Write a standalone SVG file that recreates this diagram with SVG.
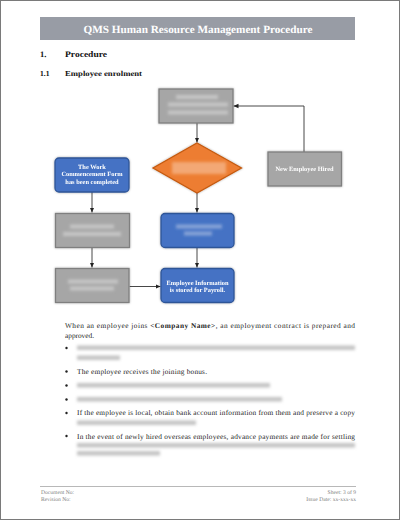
<svg xmlns="http://www.w3.org/2000/svg" width="400" height="520" viewBox="0 0 400 520" text-rendering="geometricPrecision">
<style>
.serif{font-family:"Liberation Serif","DejaVu Serif",serif}
.body{font-family:"Liberation Serif","DejaVu Serif",serif;font-size:7.3px;fill:#222222}
.bold{font-weight:bold}
.gray{fill:#a6a6a6;stroke:#7f7f7f;stroke-width:1.3}
.blue{fill:#4472c4;stroke:#2f5597;stroke-width:1.3}
.orange{fill:#ed7d31;stroke:#c55a11;stroke-width:1.3}
.ntext{font-family:"Liberation Serif","DejaVu Serif",serif;font-size:6.4px;fill:#ffffff;text-anchor:middle;font-weight:bold}
.conn{stroke:#333;stroke-width:0.9;fill:none}
.bl{filter:url(#blur)}
.foot{font-family:"Liberation Serif","DejaVu Serif",serif;font-size:5.6px;fill:#808080}
</style>
<defs>
<marker id="arr" markerWidth="6" markerHeight="6" refX="5" refY="3" orient="auto" markerUnits="userSpaceOnUse">
<path d="M0,0.8 L5,3 L0,5.2 Z" fill="#222"/>
</marker>
<filter id="blur" x="-20%" y="-150%" width="140%" height="400%"><feGaussianBlur stdDeviation="1.8"/></filter>
<filter id="shadow" x="-20%" y="-20%" width="140%" height="140%"><feDropShadow dx="0" dy="0" stdDeviation="1" flood-color="#000" flood-opacity="0.35"/></filter>
</defs>
<rect x="0" y="0" width="400" height="520" fill="#ffffff"/>
<rect x="0.5" y="0.5" width="399" height="519" fill="none" stroke="#7a7a7a" stroke-width="1"/>

<g id="header">
<rect x="40" y="17" width="315" height="23" fill="#989ca5"/>
<text x="198" y="32.5" class="serif bold" font-size="11" fill="#ffffff" text-anchor="middle" textLength="229" lengthAdjust="spacingAndGlyphs">QMS Human Resource Management Procedure</text>
</g>
<g id="headings">
<text x="40" y="57" class="serif bold" font-size="8.5" fill="#111">1.</text>
<text x="65" y="57" class="serif bold" font-size="8.5" fill="#111" textLength="42" lengthAdjust="spacingAndGlyphs">Procedure</text>
<text x="40" y="76" class="serif bold" font-size="7.5" fill="#111">1.1</text>
<text x="65" y="76" class="serif bold" font-size="7.5" fill="#111" textLength="77" lengthAdjust="spacingAndGlyphs">Employee enrolment</text>
</g>

<g id="connectors">
<line class="conn" x1="197" y1="123" x2="197" y2="142.5" marker-end="url(#arr)"/>
<line class="conn" x1="197" y1="193" x2="197" y2="212.5" marker-end="url(#arr)"/>
<line class="conn" x1="197" y1="248" x2="197" y2="267.5" marker-end="url(#arr)"/>
<polyline class="conn" points="304,152 304,106 233.5,106" marker-end="url(#arr)"/>
<line class="conn" x1="92" y1="192" x2="92" y2="212.5" marker-end="url(#arr)"/>
<line class="conn" x1="92" y1="248" x2="92" y2="267.5" marker-end="url(#arr)"/>
<line class="conn" x1="129.5" y1="286.5" x2="160.5" y2="286.5" marker-end="url(#arr)"/>
</g>

<g id="node-top" filter="url(#shadow)">
<rect class="gray" x="159" y="89" width="74" height="34"/>
<g class="bl" fill="#c6c6c6">
<rect x="176" y="95" width="42" height="4"/>
<rect x="168" y="102.5" width="60" height="4"/>
<rect x="168" y="110.5" width="60" height="4"/>
</g>
</g>
<g id="node-diamond" filter="url(#shadow)">
<polygon class="orange" points="197,143 241.5,168 197,193 153,168"/>
<rect class="bl" x="172" y="162" width="54" height="12" fill="#f3a874"/>
</g>
<g id="node-new-employee" filter="url(#shadow)">
<rect class="gray" x="268" y="152" width="73.5" height="34"/>
<text class="ntext" x="304.5" y="171.2">New Employee Hired</text>
</g>
<g id="node-work-form" filter="url(#shadow)">
<rect class="blue" x="55" y="158" width="74" height="34" rx="4"/>
<text class="ntext" x="92" y="168.7">The Work</text>
<text class="ntext" x="92" y="176.3">Commencement Form</text>
<text class="ntext" x="92" y="183.9">has been completed</text>
</g>
<g id="node-left-mid" filter="url(#shadow)">
<rect class="gray" x="55.5" y="213.5" width="74" height="34"/>
<g class="bl" fill="#c6c6c6">
<rect x="70" y="224.5" width="44" height="4"/>
<rect x="63" y="232" width="58" height="4"/>
</g>
</g>
<g id="node-blue-mid" filter="url(#shadow)">
<rect class="blue" x="161" y="213.5" width="73" height="34" rx="4"/>
<g class="bl" fill="#88a4d8">
<rect x="176" y="224.5" width="46" height="4"/>
<rect x="184" y="231.5" width="28" height="4"/>
</g>
</g>
<g id="node-left-bottom" filter="url(#shadow)">
<rect class="gray" x="55.5" y="268.5" width="73.5" height="34"/>
<g class="bl" fill="#c6c6c6">
<rect x="68" y="279.5" width="50" height="4"/>
<rect x="70" y="286.5" width="44" height="4"/>
</g>
</g>
<g id="node-payroll" filter="url(#shadow)">
<rect class="blue" x="161" y="268.5" width="73" height="34" rx="4"/>
<text class="ntext" x="197.5" y="284.7">Employee Information</text>
<text class="ntext" x="197.5" y="292.3">is stored for Payroll.</text>
</g>

<g id="body-text">
<text class="body" x="65" y="327.5" textLength="290" lengthAdjust="spacing">When an employee joins <tspan font-weight="bold">&lt;Company Name&gt;</tspan>, an employment contract is prepared and</text>
<text class="body" x="65" y="337.5">approved.</text>
<g fill="#222">
<circle cx="66.5" cy="348" r="1.2"/>
<circle cx="66.5" cy="371.5" r="1.2"/>
<circle cx="66.5" cy="385.5" r="1.2"/>
<circle cx="66.5" cy="399.5" r="1.2"/>
<circle cx="66.5" cy="413" r="1.2"/>
<circle cx="66.5" cy="436" r="1.2"/>
</g>
<g class="bl" fill="#c4c4c4">
<rect x="77" y="345.5" width="278" height="4.5"/>
<rect x="77" y="355.5" width="43" height="4.5"/>
<rect x="77" y="383" width="193" height="4.5"/>
<rect x="77" y="397" width="205" height="4.5"/>
<rect x="77" y="420.5" width="119" height="4.5"/>
<rect x="77" y="443" width="278" height="4.5"/>
<rect x="77" y="451" width="83" height="4.5"/>
</g>
<text class="body" x="77" y="373.5" textLength="130" lengthAdjust="spacing">The employee receives the joining bonus.</text>
<text class="body" x="77" y="415" textLength="278" lengthAdjust="spacing">If the employee is local, obtain bank account information from them and preserve a copy</text>
<text class="body" x="77" y="438.5" textLength="278" lengthAdjust="spacing">In the event of newly hired overseas employees, advance payments are made for settling</text>
</g>

<g id="footer">
<line x1="40" y1="486.5" x2="356" y2="486.5" stroke="#a6a6a6" stroke-width="0.8"/>
<text class="foot" x="41" y="493.5">Document No:</text>
<text class="foot" x="41" y="500.5">Revision No:</text>
<text class="foot" x="356" y="493.5" text-anchor="end">Sheet: 3 of 9</text>
<text class="foot" x="356" y="500.5" text-anchor="end">Issue Date: xx-xxx-xx</text>
</g>
</svg>
